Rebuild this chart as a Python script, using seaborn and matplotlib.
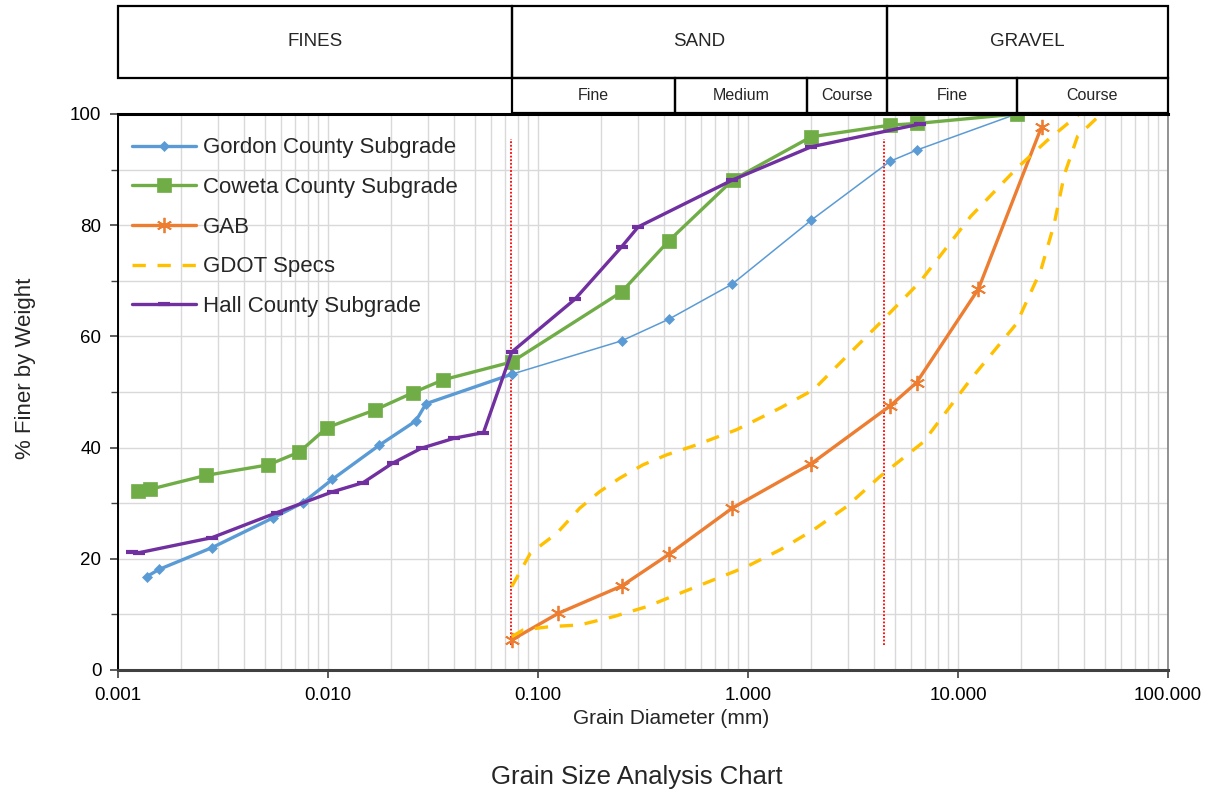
import numpy as np
import pandas as pd
import matplotlib
matplotlib.use("Agg")
import matplotlib.pyplot as plt
from matplotlib.patches import Rectangle
from matplotlib.ticker import MultipleLocator, LogLocator, FuncFormatter, NullFormatter
import seaborn as sns

# grain size (mm) vs % finer
gordon_d = [0.00137, 0.00157, 0.0028, 0.0055, 0.0076, 0.0105, 0.0175, 0.0262, 0.0293, 0.075,
            0.25, 0.42, 0.84, 2.0, 4.75, 6.35, 19.0]
gordon_pct = [16.8, 18.1, 22.0, 27.4, 30.1, 34.3, 40.4, 44.8, 47.9, 53.2,
              59.2, 63.1, 69.4, 80.9, 91.5, 93.5, 100.0]

coweta_d = [0.00125, 0.00142, 0.00262, 0.0052, 0.0073, 0.0099, 0.0168, 0.0255, 0.0354, 0.075,
            0.25, 0.42, 0.85, 2.0, 4.75, 6.4, 19.0]
coweta_pct = [32.2, 32.5, 35.0, 36.9, 39.2, 43.6, 46.8, 49.9, 52.2, 55.4,
              68.0, 77.2, 88.2, 95.9, 98.0, 98.3, 100.0]

gab_d = [0.075, 0.125, 0.25, 0.42, 0.84, 2.0, 4.75, 6.35, 12.5, 25.0]
gab_pct = [5.4, 10.2, 15.1, 20.8, 29.1, 37.1, 47.5, 51.7, 68.5, 97.7]

gdot_upper_d = [0.075, 0.092, 0.123, 0.158, 0.197, 0.245, 0.316, 0.41, 0.57, 0.88, 1.42, 2.05,
                2.74, 4.25, 6.59, 11.5, 19.0, 26.7, 37.8, 50.0]
gdot_upper_pct = [15.0, 21.0, 24.6, 29.1, 32.1, 34.5, 36.9, 38.7, 40.5, 43.2, 47.1, 50.4,
                  55.2, 62.4, 69.8, 81.6, 90.2, 95.3, 100.0, 100.0]

gdot_lower_d = [0.075, 0.085, 0.114, 0.158, 0.229, 0.33, 0.474, 0.684, 0.986, 1.42, 2.05, 2.95,
                4.25, 6.84, 11.5, 19.0, 24.8, 28.7, 32.1, 37.1, 48.0]
gdot_lower_pct = [6.0, 7.2, 7.8, 8.1, 9.6, 11.4, 13.8, 16.2, 18.6, 21.6, 25.2, 29.4,
                  34.8, 41.0, 52.3, 62.3, 71.9, 80.2, 89.1, 96.0, 100.0]

hall_d = [0.00116, 0.00126, 0.0028, 0.0057, 0.0106, 0.0147, 0.0203, 0.0279, 0.040, 0.055, 0.075,
          0.15, 0.25, 0.30, 0.84, 2.0, 6.6]
hall_pct = [21.3, 21.1, 23.8, 28.3, 32.1, 33.7, 37.2, 39.9, 41.7, 42.7, 57.2,
            66.7, 76.1, 79.7, 88.1, 94.1, 98.2]

# soil classification header (limits in mm)
main_zones = ["FINES", "SAND", "GRAVEL"]
main_limits = [0.001, 0.075, 4.6, 100.0]
sub_zones = ["Fine", "Medium", "Course", "Fine", "Course"]
sub_limits = [0.075, 0.45, 1.9, 4.6, 19.0, 100.0]
divider_d = [0.074, 4.45]

BLUE, GREEN, ORANGE, GOLD, PURPLE = "#5B9BD5", "#70AD47", "#ED7D31", "#FFC000", "#7030A0"

sns.set_theme(style="white")
plt.rcParams["font.family"] = ["Liberation Sans", "DejaVu Sans"]

fig = plt.figure(figsize=(12.15, 7.93), dpi=100)
ax = fig.add_axes([118 / 1215, 1 - 670 / 793, 1050 / 1215, 556 / 793])
hdr = fig.add_axes([118 / 1215, 1 - 113 / 793, 1050 / 1215, 108 / 793], sharex=ax)
ax.set_xscale("log")

common = dict(ax=ax, sort=False, estimator=None)
sns.lineplot(x=gordon_d[:10], y=gordon_pct[:10], color=BLUE, linewidth=2.4, marker="D",
             markersize=5, mec=BLUE, mew=0.5, label="Gordon County Subgrade", **common)
sns.lineplot(x=gordon_d[9:], y=gordon_pct[9:], color=BLUE, linewidth=1.1, marker="D",
             markersize=5, mec=BLUE, mew=0.5, legend=False, **common)
sns.lineplot(x=coweta_d, y=coweta_pct, color=GREEN, linewidth=2.4, marker="s",
             markersize=10, mec=GREEN, mew=0.5, label="Coweta County Subgrade", **common)
sns.lineplot(x=gab_d, y=gab_pct, color=ORANGE, linewidth=2.4, marker=(6, 2, 0),
             markersize=11, mec=ORANGE, mew=1.3, label="GAB", **common)
sns.lineplot(x=gdot_upper_d, y=gdot_upper_pct, color=GOLD, linewidth=2.4, label="GDOT Specs", **common)
ax.lines[-1].set_linestyle((0, (4, 3.5)))
sns.lineplot(x=gdot_lower_d, y=gdot_lower_pct, color=GOLD, linewidth=2.4, legend=False, **common)
ax.lines[-1].set_linestyle((0, (4, 3.5)))
sns.lineplot(x=hall_d, y=hall_pct, color=PURPLE, linewidth=2.4, marker="_",
             markersize=9, mec=PURPLE, mew=3, label="Hall County Subgrade", **common)

ax.vlines(divider_d, 4.5, 95.5, colors="red", linestyles=(0, (1.0, 1.0)), linewidth=1.3, zorder=1)

ax.set_xlim(0.001, 100)
ax.set_ylim(0, 100)
ax.xaxis.set_major_locator(LogLocator(base=10, numticks=10))
ax.xaxis.set_minor_locator(LogLocator(base=10, subs=np.arange(2, 10), numticks=20))
ax.xaxis.set_major_formatter(FuncFormatter(lambda v, p: f"{v:.3f}"))
ax.xaxis.set_minor_formatter(NullFormatter())
ax.yaxis.set_major_locator(MultipleLocator(20))
ax.yaxis.set_minor_locator(MultipleLocator(10))
ax.grid(True, which="both", color="#D9D9D9", linewidth=1.0)
ax.set_axisbelow(True)

ax.tick_params(axis="both", which="major", bottom=True, left=True, direction="out",
               length=6, width=1.2, color="#404040", labelsize=13.5, labelcolor="black", pad=6)
ax.tick_params(axis="y", which="minor", left=True, direction="out", length=5, width=1.0, color="#404040")
ax.tick_params(axis="x", which="minor", bottom=False)
for side, lw, col in [("left", 1.4, "black"), ("bottom", 2.2, "#404040"),
                      ("right", 1.2, "#808080"), ("top", 2.2, "black")]:
    ax.spines[side].set_visible(True)
    ax.spines[side].set_linewidth(lw)
    ax.spines[side].set_color(col)

ax.set_xlabel("Grain Diameter (mm)", fontsize=15, va="center")
ax.xaxis.set_label_coords(0.527, -0.088)
ax.set_ylabel("% Finer by Weight", fontsize=16, va="center")
ax.yaxis.set_label_coords(-0.088, 0.542)

leg = ax.legend(loc="upper left", bbox_to_anchor=(0.013, 0.958), frameon=False, fontsize=16,
                handlelength=2.9, handletextpad=0.3, labelspacing=0.84, borderpad=0, borderaxespad=0)
for t in leg.get_texts():
    t.set_color("#262626")

# header table above the plot
hdr.set_ylim(0, 108)
hdr.axis("off")
for lo, hi, name in zip(main_limits[:-1], main_limits[1:], main_zones):
    hdr.add_patch(Rectangle((lo, 35), hi - lo, 72, fill=False, ec="black", lw=1.6, clip_on=False))
    hdr.text(np.sqrt(lo * hi), 71, name, ha="center", va="center", fontsize=13.5, color="#262626")
for lo, hi, name in zip(sub_limits[:-1], sub_limits[1:], sub_zones):
    hdr.add_patch(Rectangle((lo, 0), hi - lo, 35, fill=False, ec="black", lw=1.6, clip_on=False))
    hdr.text(np.sqrt(lo * hi), 17, name, ha="center", va="center", fontsize=11.5, color="#262626")

fig.text(637 / 1215, 1 - 777 / 793, "Grain Size Analysis Chart", ha="center", va="center",
         fontsize=18.5, color="#262626")

fig.savefig("out.png", dpi=100)
